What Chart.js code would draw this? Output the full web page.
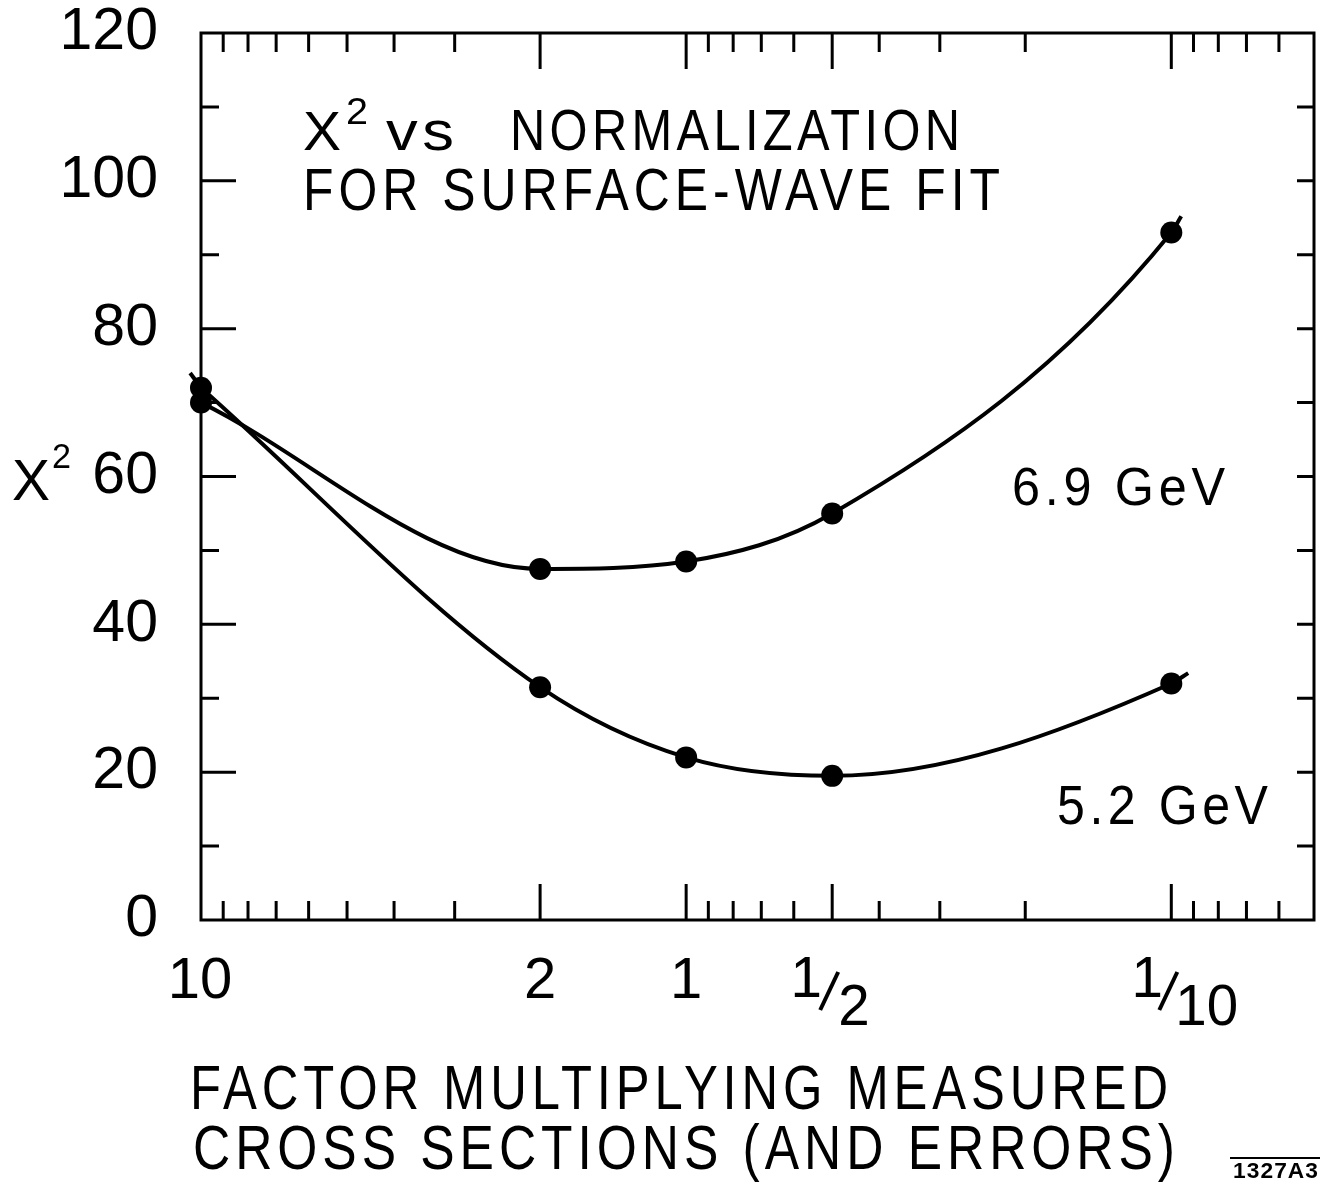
<!DOCTYPE html>
<html lang="en">
<head>
<meta charset="UTF-8">
<title>X2 vs normalization</title>
<script src="https://cdn.jsdelivr.net/npm/chart.js"></script>
<style>
  html, body { margin: 0; padding: 0; background: #fff; }
  #wrap { width: 1325px; height: 1189px; }
</style>
</head>
<body>
<div id="wrap"><canvas id="chart"></canvas></div>
<script>
// normalization factor and chi-square values
const factors = [10, 2, 1, 0.5, 0.1];
const chi69 = [70, 47.5, 48.5, 55, 93];
const chi52 = [72, 31.5, 22, 19.5, 32];
// ends of the drawn curves, where they run past the last point
const ends69 = [[0.0954, 95.2]];
const ends52 = [[0.0923, 33.4]];
// short lead-in of the 5.2 GeV curve left of the frame
const lead52 = [[10.53, 74], [10, 72]];

const yLabelTicks = [0, 20, 40, 60, 80, 100, 120];
const yAllTicks = [10, 20, 30, 40, 50, 60, 70, 80, 90, 100, 110];
const xMajor = [2, 1, 0.5, 0.1];
const xMinor = [9, 8, 7, 6, 5, 4, 3, 0.9, 0.8, 0.7, 0.6, 0.4, 0.3, 0.2, 0.09, 0.08, 0.07, 0.06];

const FAM = '"Liberation Sans", Arial, sans-serif';

function curvePoints(vals, ends) {
  const pts = factors.map((f, i) => ({ x: f, y: vals[i], dot: true }));
  ends.forEach(e => pts.push({ x: e[0], y: e[1], dot: false }));
  return pts.sort((a, b) => b.x - a.x);
}

function sizeForCap(ctx, cap, weight) {
  ctx.font = (weight || '') + ' 100px ' + FAM;
  const a = ctx.measureText('H').actualBoundingBoxAscent;
  return cap * 100 / a;
}

// draw text so its caps are `cap` tall, top at `top`, stretched to `width`
function fitText(ctx, str, x, top, cap, width, spacing, weight) {
  const size = sizeForCap(ctx, cap, weight);
  ctx.font = (weight || '') + ' ' + size + 'px ' + FAM;
  ctx.letterSpacing = (spacing || 0) + 'px';
  ctx.textAlign = 'left';
  ctx.textBaseline = 'alphabetic';
  const w = ctx.measureText(str).width - (spacing || 0);
  ctx.save();
  ctx.translate(x, top + cap);
  if (width) ctx.scale(width / w, 1);
  ctx.fillText(str, 0, 0);
  ctx.restore();
  ctx.letterSpacing = '0px';
}

function plainText(ctx, str, cx, top, cap, align) {
  const size = sizeForCap(ctx, cap);
  ctx.font = size + 'px ' + FAM;
  ctx.textAlign = align || 'center';
  ctx.textBaseline = 'alphabetic';
  ctx.fillText(str, cx, top + cap);
}

const decor = {
  id: 'decor',
  afterDraw(chart) {
    const ctx = chart.ctx;
    const a = chart.chartArea;
    const xs = chart.scales.x, ys = chart.scales.y;
    ctx.save();
    ctx.strokeStyle = '#000';
    ctx.fillStyle = '#000';
    ctx.lineCap = 'butt';

    // frame
    ctx.lineWidth = 3;
    ctx.strokeRect(a.left, a.top, a.right - a.left, a.bottom - a.top);

    // inward ticks
    ctx.beginPath();
    yAllTicks.forEach(v => {
      const y = ys.getPixelForValue(v);
      const len = v % 20 === 0 ? 35 : 18;
      ctx.moveTo(a.left, y); ctx.lineTo(a.left + len, y);
      ctx.moveTo(a.right, y); ctx.lineTo(a.right - 17, y);
    });
    xMinor.concat(xMajor).forEach(v => {
      const x = xs.getPixelForValue(v);
      const len = xMajor.includes(v) ? 36 : 19;
      ctx.moveTo(x, a.bottom); ctx.lineTo(x, a.bottom - len);
      ctx.moveTo(x, a.top); ctx.lineTo(x, a.top + len);
    });
    ctx.stroke();

    // x tick labels
    plainText(ctx, '10', xs.getPixelForValue(10) - 1, 958, 40);
    plainText(ctx, '2', xs.getPixelForValue(2), 958, 40);
    plainText(ctx, '1', xs.getPixelForValue(1), 958, 40);
    [[0.5, '2', -26, 6], [0.1, '10', -24, 4]].forEach(([v, den, dx1, dx2]) => {
      const px = xs.getPixelForValue(v);
      plainText(ctx, '1', px + dx1, 958, 39);
      plainText(ctx, den, px + dx2, 986, 39, 'left');
      ctx.lineWidth = 4;
      ctx.beginPath();
      ctx.moveTo(px - 12, 1010);
      ctx.lineTo(px + 6, 972);
      ctx.stroke();
    });

    // title
    fitText(ctx, 'X', 303, 112, 38, 38);
    fitText(ctx, '2', 346, 99, 25, 22);
    fitText(ctx, 'vs', 386, 112, 38, 68, 4);
    fitText(ctx, 'NORMALIZATION', 510, 111, 39, 450, 5);
    fitText(ctx, 'FOR SURFACE-WAVE FIT', 303, 169, 41, 697, 6);

    // curve labels
    fitText(ctx, '6.9 GeV', 1012, 468, 37, 213, 5);
    fitText(ctx, '5.2 GeV', 1057, 786, 38, 211, 5);

    // axis titles
    fitText(ctx, 'X', 12, 460, 40, 38);
    fitText(ctx, '2', 52, 444, 24, 19);
    fitText(ctx, 'FACTOR MULTIPLYING MEASURED', 190, 1066, 43, 978, 6);
    fitText(ctx, 'CROSS SECTIONS (AND ERRORS)', 193, 1126, 43, 982, 6);

    // plate number
    fitText(ctx, '1327A3', 1233, 1163, 15, 85, 1, 'bold');
    ctx.lineWidth = 2;
    ctx.beginPath();
    ctx.moveTo(1230, 1158); ctx.lineTo(1320, 1158);
    ctx.stroke();

    ctx.restore();
  }
};

function seriesSet(label, vals, ends) {
  return {
    label: label,
    data: curvePoints(vals, ends),
    borderColor: '#000',
    backgroundColor: '#000',
    borderWidth: 4,
    cubicInterpolationMode: 'monotone',
    clip: false,
    pointRadius: c => (c.raw && c.raw.dot ? 11 : 0),
    pointBorderWidth: 0,
    pointHoverRadius: 0
  };
}

new Chart(document.getElementById('chart'), {
  type: 'line',
  data: {
    datasets: [
      seriesSet('6.9 GeV', chi69, ends69),
      seriesSet('5.2 GeV', chi52, ends52),
      {
        label: '5.2 GeV lead-in',
        data: lead52.map(p => ({ x: p[0], y: p[1] })),
        borderColor: '#000',
        borderWidth: 4,
        clip: false,
        pointRadius: 0,
        pointHoverRadius: 0
      }
    ]
  },
  options: {
    responsive: true,
    maintainAspectRatio: false,
    animation: false,
    layout: { padding: { top: 33, right: 7, left: 0, bottom: 0 } },
    plugins: { legend: { display: false }, tooltip: { enabled: false } },
    scales: {
      x: {
        type: 'logarithmic',
        reverse: true,
        min: 0.0508,
        max: 10,
        grid: { display: false },
        border: { display: false },
        ticks: { display: false },
        afterFit: s => { s.height = 269; s.paddingLeft = 0; s.paddingRight = 0; }
      },
      y: {
        min: 0,
        max: 120,
        grid: { display: false },
        border: { display: false },
        afterBuildTicks: s => { s.ticks = yLabelTicks.map(v => ({ value: v })); },
        ticks: {
          color: '#000',
          padding: 35,
          font: { family: FAM, size: 59 }
        },
        afterFit: s => { s.width = 201; s.paddingTop = 0; s.paddingBottom = 0; }
      }
    }
  },
  plugins: [decor]
});
</script>
</body>
</html>
